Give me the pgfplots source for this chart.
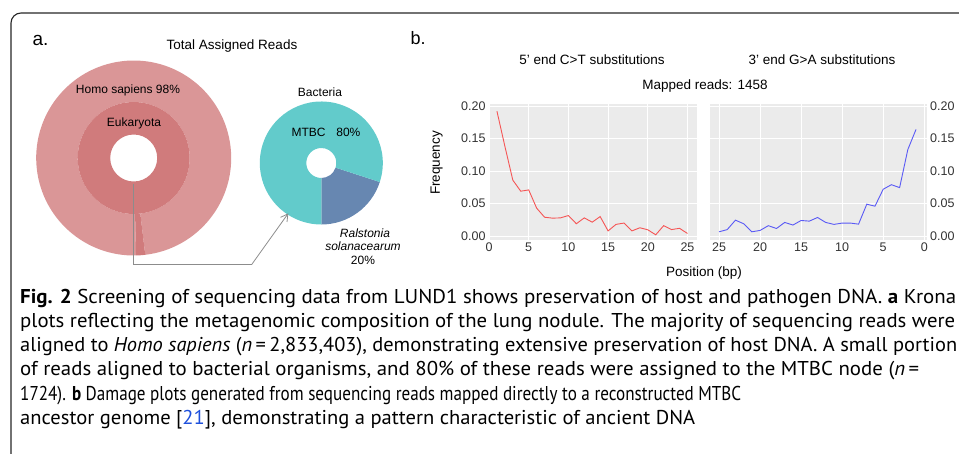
\documentclass[border=0pt]{standalone}
\usepackage{graphicx}
\usepackage{pgfplots}
\pgfplotsset{compat=1.18}
\usepackage{pgfplotstable}
\usepackage{fontspec}
\setmainfont{Liberation Sans}
\newfontfamily\capfont{PT Sans}
\usetikzlibrary{arrows.meta}

\definecolor{hsap}{RGB}{218,150,151}
\definecolor{euk}{RGB}{208,123,124}
\definecolor{mtbc}{RGB}{98,203,203}
\definecolor{ral}{RGB}{103,135,177}
\definecolor{panel}{RGB}{235,235,235}
\definecolor{ctred}{RGB}{245,85,85}
\definecolor{gablue}{RGB}{90,90,245}
\definecolor{citeblue}{RGB}{30,80,220}

% 5' C>T frequency by position
\pgfplotstableread{
pos freq
1 0.192
2 0.138
3 0.086
4 0.069
5 0.071
6 0.043
7 0.029
8 0.0276
9 0.028
10 0.0316
11 0.019
12 0.028
13 0.0214
14 0.030
15 0.008
16 0.018
17 0.020
18 0.008
19 0.0128
20 0.0097
21 0.002
22 0.016
23 0.010
24 0.012
25 0.004
}\ctdata

% 3' G>A frequency by position
\pgfplotstableread{
pos freq
1 0.164
2 0.133
3 0.0745
4 0.079
5 0.072
6 0.046
7 0.049
8 0.0184
9 0.020
10 0.020
11 0.018
12 0.021
13 0.0286
14 0.023
15 0.024
16 0.017
17 0.021
18 0.0117
19 0.016
20 0.0087
21 0.0066
22 0.019
23 0.0245
24 0.010
25 0.0066
}\gadata

% krona shares (percent)
\def\homoPct{98.5}  % of eukaryota ring
\def\mtbcPct{80}
\def\ralPct{20}

\newcommand\sector[5]{% colour, start, end, inner r, outer r
  \fill[#1] (#2:#5) arc[start angle=#2, end angle=#3, radius=#5]
    -- (#3:#4) arc[start angle=#3, end angle=#2, radius=#4] -- cycle;}

% caption line squeezed to a given width, height kept
\newcommand\capline[2]{\resizebox{#1pt}{\height}{#2}}

\pgfplotsset{
  dmg/.style={
    scale only axis,
    anchor=south west,
    height=136pt,
    ymin=-0.006, ymax=0.203,
    xtick={0,5,...,25},
    ytick={0,0.05,0.1,0.15,0.2},
    axis background/.style={fill=panel},
    axis line style={draw=none},
    tick style={draw=none},
    grid=major,
    major grid style={white, line width=0.6pt},
    tick label style={font=\fontsize{12.5}{13}\selectfont, text=black!80},
    /pgf/number format/assume math mode=true,
    yticklabel style={/pgf/number format/.cd, fixed, fixed zerofill, precision=2},
    xticklabel style={yshift=1pt},
  }
}

\begin{document}
\begin{tikzpicture}[x=1pt, y=-1pt]
\useasboundingbox (0,0) rectangle (959,453);

% frame
\draw[line width=1.1pt, black!85, rounded corners=10pt] (11,480) -- (11,13) -- (990,13);

% ---------- panel a ----------
\node[anchor=base west, font=\fontsize{19}{19}\selectfont] at (29,45) {a.};
\node[anchor=base, font=\fontsize{13.5}{14}\selectfont] at (232,49) {Total Assigned Reads};

\begin{scope}[shift={(133.7,158)}, y=1pt]
  \pgfmathsetmacro\aO{-88.6}
  \pgfmathsetmacro\aS{\aO+(100-\homoPct)*3.6}
  \pgfmathsetmacro\aE{\aO+360}
  \sector{hsap}{\aS}{\aE}{56}{97.5}
  \sector{euk}{\aO}{\aS}{56}{97.5}
  \fill[euk, even odd rule] (0,0) circle[radius=56] (0,0) circle[radius=23.5];
\end{scope}

\begin{scope}[shift={(321.3,163)}, y=1pt]
  \pgfmathsetmacro\bS{-90+\ralPct*3.6}
  \sector{ral}{-90}{\bS}{15}{61.5}
  \sector{mtbc}{\bS}{270}{15}{61.5}
\end{scope}

\draw[black!45, line width=0.8pt, -{Straight Barb[length=7pt, width=8pt]}]
  (133.5,184) -- (133.5,264.5) -- (251.7,264.5) -- (288.3,213.3);

\begin{scope}[font=\fontsize{12}{12}\selectfont]
  \node[anchor=base] at (128,93) {Homo sapiens 98\%};
  \node[anchor=base] at (134,126) {Eukaryota};
  \node[anchor=base] at (320,96.7) {Bacteria};
  \node[anchor=base] at (326,136) {MTBC\hspace{0.9em}80\%};
  \node[anchor=base] at (365,237) {\itshape Ralstonia};
  \node[anchor=base] at (363,250.7) {\itshape solanacearum};
  \node[anchor=base] at (363,264) {20\%};
\end{scope}

% ---------- panel b ----------
\node[anchor=base west, font=\fontsize{18}{18}\selectfont] at (407,44.3) {b.};
\begin{scope}[font=\fontsize{13.5}{14}\selectfont]
  \node[anchor=base] at (592,64.3) {5' end C>T substitutions};
  \node[anchor=base] at (822,64.3) {3' end G>A substitutions};
  \node[anchor=base] at (705,89) {Mapped reads: 1458};
  \node[anchor=base] at (704,276) {Position (bp)};
  \node[rotate=90] at (436.7,163) {Frequency};
\end{scope}

\begin{axis}[dmg,
  at={(489pt,-240pt)},
  width=208pt,
  xmin=0, xmax=26.2,
]
\addplot[ctred, line width=0.9pt] table[x=pos, y=freq] {\ctdata};
\end{axis}

\begin{axis}[dmg,
  at={(710pt,-240pt)},
  width=216.7pt,
  x dir=reverse,
  xmin=-0.3, xmax=26.1,
  yticklabel pos=right,
]
\addplot[gablue, line width=0.9pt] table[x=pos, y=freq] {\gadata};
\end{axis}

% ---------- caption ----------
\begin{scope}[font=\capfont\fontsize{20}{20}\selectfont]
  \node[anchor=base west, inner sep=0pt] at (20,303) {\capline{936}{\textbf{Fig. 2} Screening of sequencing data from LUND1 shows preservation of host and pathogen DNA. \textbf{a} Krona}};
  \node[anchor=base west, inner sep=0pt] at (20,327.3) {\capline{935}{plots reflecting the metagenomic composition of the lung nodule. The majority of sequencing reads were}};
  \node[anchor=base west, inner sep=0pt] at (20,351.5) {\capline{937}{aligned to \textit{Homo sapiens} (\textit{n}\,=\,2,833,403), demonstrating extensive preservation of host DNA. A small portion}};
  \node[anchor=base west, inner sep=0pt] at (20,375.7) {\capline{899}{of reads aligned to bacterial organisms, and 80\% of these reads were assigned to the MTBC node (\textit{n}\,=}};
  \node[anchor=base west, inner sep=0pt] at (20,400) {\capline{721}{1724). \textbf{b} Damage plots generated from sequencing reads mapped directly to a reconstructed MTBC}};
  \node[anchor=base west, inner sep=0pt] at (20,424.2) {\capline{675}{ancestor genome [\textcolor{citeblue}{21}], demonstrating a pattern characteristic of ancient DNA}};
\end{scope}
\end{tikzpicture}
\end{document}
